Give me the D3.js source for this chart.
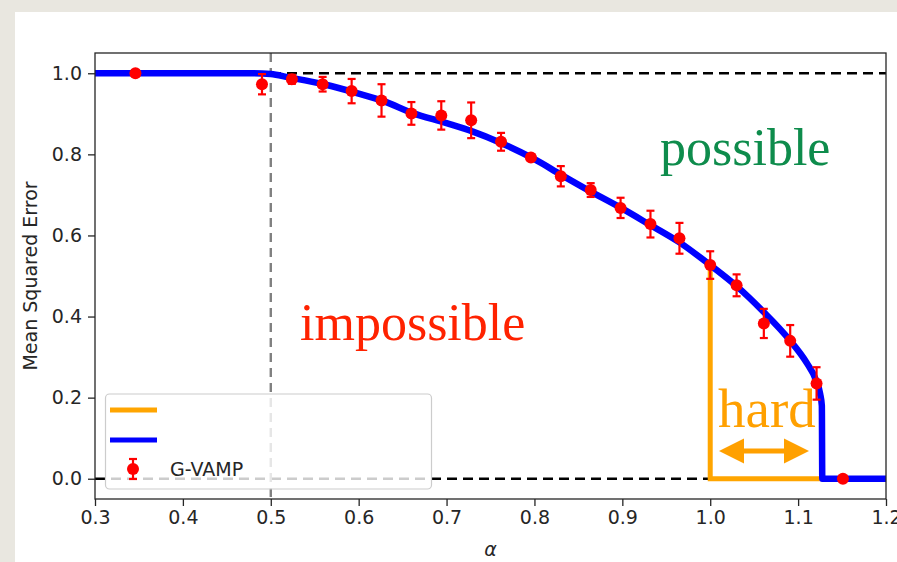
<!DOCTYPE html>
<html><head><meta charset="utf-8">
<script src="https://cdn.jsdelivr.net/npm/d3@7"></script>
<style>body{margin:0;background:#e9e7e0;}svg{display:block;}</style>
</head><body>
<svg id="c" width="897" height="562"></svg>
<script>
// ---- data ----
const curveAlpha = [0.30,0.45,0.48,0.50,0.52,0.56,0.60,0.63,0.66,0.70,0.73,0.76,0.80,0.83,0.86,0.90,0.93,0.965,1.00,1.03,1.06,1.09,1.11,1.12,1.125,1.127,1.1275,1.20];
const curveMSE   = [1.0,1.0,1.0,0.998,0.99,0.973,0.95,0.93,0.903,0.877,0.856,0.83,0.788,0.75,0.713,0.666,0.628,0.583,0.527,0.475,0.413,0.343,0.285,0.245,0.21,0.18,0.0,0.0];
const vampAlpha = [0.346,0.490,0.524,0.559,0.592,0.626,0.660,0.694,0.728,0.762,0.796,0.830,0.864,0.898,0.932,0.965,1.000,1.030,1.061,1.091,1.121,1.151];
const vampMSE   = [1.0,0.973,0.985,0.973,0.956,0.933,0.901,0.896,0.884,0.831,0.792,0.746,0.712,0.668,0.628,0.593,0.527,0.477,0.383,0.340,0.235,0.0];
const vampErr   = [0.0,0.025,0.011,0.018,0.03,0.04,0.028,0.035,0.044,0.022,0.008,0.025,0.017,0.025,0.033,0.038,0.034,0.027,0.036,0.039,0.04,0.0];
const xTicks = [0.3,0.4,0.5,0.6,0.7,0.8,0.9,1.0,1.1,1.2];
const yTicks = [0.0,0.2,0.4,0.6,0.8,1.0];
const alphaAlgo = 1.0;      // algorithmic threshold
const alphaIT = 0.5;        // information-theoretic threshold
const alphaPerfect = 1.1275;

const svg = d3.select("#c");
// panel
svg.append("rect").attr("x",15).attr("y",12).attr("width",900).attr("height",560).attr("fill","#fff");

const L=95,R=886,T=53,B=499;
const x = d3.scaleLinear().domain([0.3,1.2]).range([L,R]);
const y = d3.scaleLinear().domain([-0.05,1.05]).range([B,T]);

const g = svg.append("g");
g.append("clipPath").attr("id","clip").append("rect").attr("x",L).attr("y",T).attr("width",R-L).attr("height",B-T);
const p = g.append("g").attr("clip-path","url(#clip)");

// dashed guide lines
p.append("line").attr("x1",x(0.3)).attr("x2",x(1.2)).attr("y1",y(1)).attr("y2",y(1))
 .attr("stroke","#000").attr("stroke-width",2.6).attr("stroke-dasharray","10,6");
p.append("line").attr("x1",x(0.3)).attr("x2",x(1.2)).attr("y1",y(0)).attr("y2",y(0))
 .attr("stroke","#000").attr("stroke-width",2.6).attr("stroke-dasharray","10,6");
p.append("line").attr("x1",x(alphaIT)).attr("x2",x(alphaIT)).attr("y1",T).attr("y2",B)
 .attr("stroke","#808080").attr("stroke-width",2.4).attr("stroke-dasharray","9,6");

// orange hard region
const algoMSE = curveMSE[curveAlpha.indexOf(alphaAlgo)];
p.append("path").attr("d", d3.line()([[x(alphaAlgo),y(algoMSE)],[x(alphaAlgo),y(0)],[x(alphaPerfect),y(0)]]))
 .attr("fill","none").attr("stroke","#ffa500").attr("stroke-width",5);

// blue curve
const pts = curveAlpha.map((a,i)=>[a,curveMSE[i]]);
p.append("path").datum(pts)
 .attr("d", d3.line().x(d=>x(d[0])).y(d=>y(d[1])).curve(d3.curveMonotoneX))
 .attr("fill","none").attr("stroke","#0000ff").attr("stroke-width",6.5).attr("stroke-linejoin","round");

// error bars + points
const eg = g.append("g");
vampAlpha.forEach((a,i)=>{
  const e=vampErr[i];
  if(e>0){
    eg.append("line").attr("x1",x(a)).attr("x2",x(a)).attr("y1",y(vampMSE[i]-e)).attr("y2",y(vampMSE[i]+e)).attr("stroke","#ff0000").attr("stroke-width",2.2);
    [vampMSE[i]-e,vampMSE[i]+e].forEach(v=>eg.append("line").attr("x1",x(a)-4).attr("x2",x(a)+4).attr("y1",y(v)).attr("y2",y(v)).attr("stroke","#ff0000").attr("stroke-width",2.2));
  }
  eg.append("circle").attr("cx",x(a)).attr("cy",y(vampMSE[i])).attr("r",6).attr("fill","#ff0000");
});

// region labels
const serif = "'Liberation Serif','Times New Roman',serif";
g.append("text").attr("x",660).attr("y",165).attr("font-family",serif).attr("font-size",52).attr("fill","#0e8c4c").text("possible");
g.append("text").attr("x",300).attr("y",340).attr("font-family",serif).attr("font-size",52).attr("fill","#ff2200").text("impossible");
g.append("text").attr("x",718).attr("y",427).attr("font-family",serif).attr("font-size",55).attr("fill","#ffa000").text("hard");
// double arrow
const ax1=719, ax2=809, ay=451, hl=25, hw=12.5;
g.append("line").attr("x1",ax1+hl-2).attr("x2",ax2-hl+2).attr("y1",ay).attr("y2",ay).attr("stroke","#ffa000").attr("stroke-width",5);
g.append("path").attr("d",`M${ax1},${ay}L${ax1+hl},${ay-hw}L${ax1+hl},${ay+hw}Z`).attr("fill","#ffa000");
g.append("path").attr("d",`M${ax2},${ay}L${ax2-hl},${ay-hw}L${ax2-hl},${ay+hw}Z`).attr("fill","#ffa000");

// legend
const lg = g.append("g");
lg.append("rect").attr("x",105.5).attr("y",394).attr("width",326).attr("height",95).attr("rx",4)
 .attr("fill","#fff").attr("fill-opacity",0.8).attr("stroke","#cccccc").attr("stroke-width",1.2);
lg.append("line").attr("x1",110).attr("x2",157).attr("y1",410).attr("y2",410).attr("stroke","#ffa500").attr("stroke-width",5);
lg.append("line").attr("x1",110).attr("x2",157).attr("y1",440).attr("y2",440).attr("stroke","#0000ff").attr("stroke-width",5);
lg.append("line").attr("x1",133).attr("x2",133).attr("y1",459).attr("y2",479).attr("stroke","#ff0000").attr("stroke-width",2.2);
[459,479].forEach(v=>lg.append("line").attr("x1",129).attr("x2",137).attr("y1",v).attr("y2",v).attr("stroke","#ff0000").attr("stroke-width",2.2));
lg.append("circle").attr("cx",133).attr("cy",469).attr("r",6).attr("fill","#ff0000");
lg.append("text").attr("x",170).attr("y",476).attr("font-family","'DejaVu Sans',sans-serif").attr("font-size",19).attr("fill","#262626").text("G-VAMP");

// axes
const xa = g.append("g").attr("transform",`translate(0,${B})`)
 .call(d3.axisBottom(x).tickValues(xTicks).tickFormat(d3.format(".1f")).tickSize(7).tickPadding(5).tickSizeOuter(0));
const ya = g.append("g").attr("transform",`translate(${L},0)`)
 .call(d3.axisLeft(y).tickValues(yTicks).tickFormat(d3.format(".1f")).tickSize(7).tickPadding(6).tickSizeOuter(0));
[xa,ya].forEach(a=>{
  a.selectAll("text").attr("font-family","'DejaVu Sans',sans-serif").attr("font-size",19).attr("fill","#262626");
  a.selectAll("line").attr("stroke","#262626").attr("stroke-width",1.3);
  a.select(".domain").remove();
});
g.append("rect").attr("x",L).attr("y",T).attr("width",R-L).attr("height",B-T).attr("fill","none").attr("stroke","#262626").attr("stroke-width",1.3);

// axis labels
g.append("text").attr("x",(L+R)/2).attr("y",556).attr("text-anchor","middle").attr("font-family","'DejaVu Sans',sans-serif")
 .attr("font-style","italic").attr("font-size",19).attr("fill","#262626").text("α");
g.append("text").attr("transform","translate(37,276) rotate(-90)").attr("text-anchor","middle").attr("font-family","'DejaVu Sans',sans-serif")
 .attr("font-size",19).attr("fill","#262626").text("Mean Squared Error");
</script>
</body></html>
